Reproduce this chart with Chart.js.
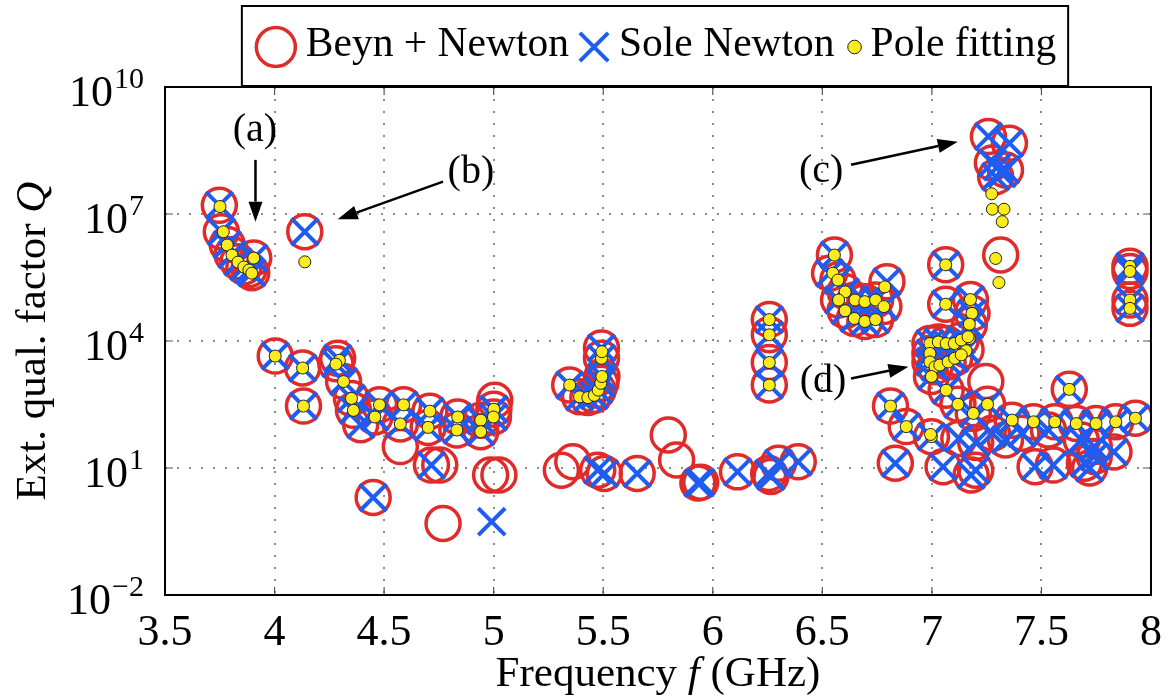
<!DOCTYPE html>
<html><head><meta charset="utf-8">
<script src="https://cdn.jsdelivr.net/npm/chart.js@4/dist/chart.umd.min.js"></script>
<style>html,body{margin:0;padding:0;background:#fff}</style>
</head><body>
<canvas id="c" width="1174" height="697"></canvas>
<script>
// ---------- DATA ----------
const seriesNames = ['Beyn + Newton', 'Sole Newton', 'Pole fitting'];

const beynF = [3.748,3.757,3.784,3.806,3.833,3.860,3.883,3.896,3.905,
  4.138,
  4.003,4.128,4.132,4.288,4.280,4.315,4.351,4.360,4.393,4.479,4.458,4.589,4.574,4.574,4.709,4.701,4.836,4.832,4.941,4.941,5.001,4.999,5.005,
  4.716,4.754,4.450,4.769,4.986,5.024,
  5.347,5.392,5.430,5.459,5.477,5.489,5.494,5.492,5.492,
  5.309,5.361,5.475,5.505,5.655,5.797,5.835,5.932,5.945,6.113,6.255,6.265,6.300,6.390,
  6.258,6.258,6.258,6.258,
  6.555,6.533,6.571,6.604,6.574,6.604,6.649,6.646,6.694,6.694,6.743,6.743,6.795,6.781,
  7.063,7.063,
  7.258,7.354,7.276,7.336,7.291,7.314,
  6.991,7.029,7.065,7.134,7.171,7.183,7.176,6.991,6.991,7.014,7.074,7.104,7.156,6.998,7.065,7.119,7.189,7.254,7.246,
  6.811,6.883,6.998,6.833,7.123,7.366,7.464,7.561,7.659,7.749,7.839,7.929,7.627,
  7.051,7.179,7.200,7.471,7.554,7.696,7.741,7.720,7.831,
  7.276,7.336,7.411,7.532,7.682,7.741,7.200,
  7.904,7.904,7.904,7.904];
const beynQ = [1.6e7,3.8e6,1.9e6,1.1e6,7.4e5,5.6e5,4.8e5,4.1e5,9.1e5,
  3.8e6,
  4.4e3,2.3e3,2.9e2,3.9e3,2.9e3,1.1e3,4.4e2,2.3e2,1.05e2,3.1e2,1.6e2,3.1e2,1.1e2,32,2.2e2,91,1.6e2,79,1.35e2,72,2.45e2,1.6e2,4.0e2,
  11.7,11.7,2.0,0.49,6.8,6.8,
  9.1e2,4.8e2,4.6e2,5.2e2,6.9e2,1.0e3,1.45e3,3.9e3,6.8e3,
  8.9,14,8.9,7.4,7.4,60,15.5,4.4,4.6,8.1,7.4,6.3,12.9,14,
  3.2e4,1.4e4,3.1e3,9.1e2,
  1.07e6,4.0e5,2.75e5,1.45e5,9.3e4,5.2e4,9.3e4,3.4e4,8.5e4,2.9e4,9.3e4,3.2e4,2.5e5,6.5e4,
  6.3e5,7.4e4,
  6.8e8,4.7e8,1.6e8,1.1e8,7.6e7,1.07e6,
  8.7e3,9.5e3,8.7e3,1.05e4,2.4e4,4.5e4,9.5e4,5.1e3,3.2e3,2.45e3,3.2e3,3.9e3,6.2e3,1.45e3,6.9e2,3.2e2,1.95e2,3.2e2,1.1e3,
  2.9e2,95,55,12.9,50,1.35e2,1.23e2,1.23e2,1.12e2,1.12e2,1.23e2,1.5e2,7.2e2,
  10.7,6.8,8.9,10.7,11.7,12.9,18.6,10,24,
  66,46,66,79,46,32,40,
  5.8e5,4.4e5,9.3e4,5.9e4];

const soleF = [3.748,3.757,3.784,3.806,3.833,3.860,3.883,3.896,3.905,
  4.138,
  4.003,4.128,4.132,4.288,4.280,4.315,4.351,4.360,4.393,4.479,4.458,4.589,4.574,4.709,4.701,4.836,4.832,4.941,4.941,5.001,4.999,
  4.716,4.450,4.991,
  5.347,5.392,5.430,5.459,5.477,5.489,5.494,5.492,5.492,
  5.475,5.505,5.655,5.932,5.945,6.113,6.255,6.265,6.300,6.390,
  6.258,6.258,6.258,6.258,
  6.555,6.533,6.571,6.604,6.574,6.604,6.649,6.646,6.694,6.694,6.743,6.743,6.795,6.781,
  7.063,7.063,
  7.258,7.354,7.276,7.336,7.291,7.300,7.320,
  6.991,7.029,7.065,7.134,7.171,7.183,7.176,6.991,6.991,7.014,7.074,7.104,7.156,6.998,7.065,7.119,7.189,7.254,
  6.811,6.883,6.998,6.833,7.123,7.366,7.464,7.561,7.659,7.749,7.839,7.929,7.627,
  7.051,7.179,7.200,7.471,7.554,7.696,7.741,7.720,7.831,
  7.276,7.336,7.411,7.532,7.682,7.741,7.200,
  7.904,7.904,7.904,7.904];
const soleQ = [1.6e7,3.8e6,1.9e6,1.1e6,7.4e5,5.6e5,4.8e5,4.1e5,9.1e5,
  3.8e6,
  4.4e3,2.3e3,2.9e2,3.9e3,2.9e3,1.1e3,4.4e2,2.3e2,1.05e2,3.1e2,1.6e2,3.1e2,1.1e2,2.2e2,91,1.6e2,79,1.35e2,72,2.45e2,1.6e2,
  11.7,2.0,0.54,
  9.1e2,4.8e2,4.6e2,5.2e2,6.9e2,1.0e3,1.45e3,3.9e3,6.8e3,
  8.9,7.4,7.4,4.4,4.6,8.1,7.4,6.3,12.9,14,
  3.2e4,1.4e4,3.1e3,9.1e2,
  1.07e6,4.0e5,2.75e5,1.45e5,9.3e4,5.2e4,9.3e4,3.4e4,8.5e4,2.9e4,9.3e4,3.2e4,2.5e5,6.5e4,
  6.3e5,7.4e4,
  6.8e8,4.7e8,1.6e8,1.1e8,7.6e7,1.3e8,9.0e7,
  8.7e3,9.5e3,8.7e3,1.05e4,2.4e4,4.5e4,9.5e4,5.1e3,3.2e3,2.45e3,3.2e3,3.9e3,6.2e3,1.45e3,6.9e2,3.2e2,1.95e2,3.2e2,
  2.9e2,95,55,12.9,50,1.35e2,1.23e2,1.23e2,1.12e2,1.12e2,1.23e2,1.5e2,7.2e2,
  10.7,6.8,8.9,10.7,11.7,12.9,18.6,10,24,
  66,46,66,79,46,32,40,
  5.8e5,4.4e5,9.3e4,5.9e4];

const poleF = [3.751,3.766,3.784,3.806,3.833,3.860,3.883,3.896,3.905,
  4.138,
  4.003,4.128,4.132,4.296,4.280,4.315,4.351,4.360,4.479,4.458,4.589,4.574,4.709,4.701,4.836,4.832,4.941,4.941,5.001,4.999,
  5.347,5.392,5.430,5.459,5.477,5.489,5.494,5.492,5.494,
  6.258,6.258,6.258,6.258,
  6.555,6.548,6.571,6.604,6.574,6.604,6.649,6.646,6.694,6.694,6.743,6.743,6.785,6.781,
  7.063,7.063,
  7.273,7.276,7.329,7.321,7.291,7.306,
  7.176,7.183,7.171,7.171,7.156,6.991,7.029,7.065,7.102,7.134,7.165,6.991,6.991,7.014,7.036,7.074,7.104,7.134,6.998,7.065,7.119,7.189,7.254,
  6.811,6.883,6.998,6.994,7.366,7.464,7.561,7.659,7.749,7.839,7.929,7.627,
  7.904,7.904,7.904,7.904];
const poleQ = [1.5e7,3.8e6,1.85e6,1.07e6,7.3e5,5.6e5,4.75e5,4.0e5,9.1e5,
  7.4e5,
  4.4e3,2.3e3,2.9e2,3.5e3,2.85e3,1.1e3,4.4e2,2.3e2,3.1e2,1.6e2,3.1e2,1.1e2,2.2e2,91,1.6e2,79,1.35e2,72,2.45e2,1.6e2,
  9.1e2,4.8e2,4.6e2,5.2e2,6.9e2,1.0e3,1.45e3,3.9e3,5.6e3,
  3.2e4,1.4e4,3.1e3,9.1e2,
  1.07e6,4.0e5,2.75e5,1.45e5,9.3e4,5.2e4,9.3e4,3.4e4,8.5e4,2.9e4,9.3e4,3.2e4,1.9e5,6.5e4,
  6.3e5,7.4e4,
  3.0e7,1.3e7,1.3e7,6.6e6,8.9e5,2.4e5,
  9.5e4,4.5e4,2.5e4,1.15e4,5.9e3,8.7e3,9.5e3,8.7e3,8.7e3,1.05e4,1.26e4,5.1e3,3.2e3,2.45e3,2.7e3,3.2e3,3.9e3,4.7e3,1.45e3,6.9e2,3.2e2,1.95e2,3.2e2,
  2.9e2,95,55,62,1.35e2,1.23e2,1.23e2,1.12e2,1.12e2,1.23e2,1.5e2,7.2e2,
  5.8e5,4.4e5,9.3e4,5.9e4];

const xTicks = [3.5,4,4.5,5,5.5,6,6.5,7,7.5,8];
const xTickLabels = ['3.5','4','4.5','5','5.5','6','6.5','7','7.5','8'];
const yTicks = [1e-2,1e1,1e4,1e7,1e10];
const yTickExponents = ['\u22122','1','4','7','10'];

const annotationLabels = ['(a)','(b)','(c)','(d)'];
const annotationTextX = [3.91, 4.896, 6.495, 6.503];
const annotationTextY = [9.5e8, 9.8e7, 1.0e8, 1.1e3];
const arrowFromX = [3.913, 4.769, 6.631, 6.631];
const arrowFromY = [1.9e8, 5.8e7, 1.45e8, 1.3e3];
const arrowToX = [3.913, 4.288, 7.118, 6.893];
const arrowToY = [6.6e6, 7.5e6, 5.1e8, 2.45e3];

// ---------- STYLE ----------
const RED = '#e12a2a', BLUE = '#1f5cf2', YELLOW = '#fdec1c';
const SERIF = '"Liberation Serif", "Times New Roman", serif';
const TICK_FONT = 44, SUP_FONT = 30, TITLE_FONT = 43, LEG_FONT = 41.5, ANN_FONT = 40;

function toPts(xs, ys){ return xs.map((x,i)=>({x:x, y:ys[i]})); }

function mixedCentered(ctx, pieces, cx, y, size){
  const widths = pieces.map(p=>{ ctx.font = (p[1]?'italic ':'') + size + 'px ' + SERIF; return ctx.measureText(p[0]).width; });
  let x = cx - widths.reduce((s,w)=>s+w,0)/2;
  ctx.textAlign = 'left';
  pieces.forEach((p,i)=>{ ctx.font = (p[1]?'italic ':'') + size + 'px ' + SERIF; ctx.fillText(p[0], x, y); x += widths[i]; });
}

const decor = {
  id: 'decor',
  beforeDraw(chart){
    const ctx = chart.ctx;
    ctx.save(); ctx.fillStyle = '#fff'; ctx.fillRect(0,0,chart.width,chart.height); ctx.restore();
  },
  afterDraw(chart){
    const ctx = chart.ctx, a = chart.chartArea;
    const xs = chart.scales.x, ys = chart.scales.y;
    ctx.save();
    // inner tick marks
    ctx.strokeStyle = '#555'; ctx.lineWidth = 1.2;
    ctx.beginPath();
    xTicks.forEach(v=>{ const p = xs.getPixelForValue(v);
      ctx.moveTo(p, a.bottom); ctx.lineTo(p, a.bottom-8);
      ctx.moveTo(p, a.top); ctx.lineTo(p, a.top+8); });
    yTicks.forEach(v=>{ const p = ys.getPixelForValue(v);
      ctx.moveTo(a.left, p); ctx.lineTo(a.left+8, p);
      ctx.moveTo(a.right, p); ctx.lineTo(a.right-8, p); });
    ctx.stroke();
    // frame
    ctx.strokeStyle = '#000'; ctx.lineWidth = 2;
    ctx.strokeRect(a.left, a.top, a.right-a.left, a.bottom-a.top);

    ctx.fillStyle = '#000'; ctx.textBaseline = 'alphabetic';
    // x tick labels
    ctx.font = TICK_FONT + 'px ' + SERIF; ctx.textAlign = 'center';
    xTicks.forEach((v,i)=>{ ctx.fillText(xTickLabels[i], xs.getPixelForValue(v), a.bottom + 50); });
    // y tick labels 10^n
    yTicks.forEach((v,i)=>{
      const p = ys.getPixelForValue(v);
      const right = a.left - 21;
      ctx.font = SUP_FONT + 'px ' + SERIF;
      const sw = ctx.measureText(yTickExponents[i]).width;
      ctx.textAlign = 'left';
      ctx.fillText(yTickExponents[i], right - sw, p + 1);
      ctx.font = TICK_FONT + 'px ' + SERIF;
      ctx.textAlign = 'right';
      ctx.fillText('10', right - sw - 1, p + 19);
    });
    // x title
    mixedCentered(ctx, [['Frequency ',false],['f',true],[' (GHz)',false]], (a.left+a.right)/2, a.bottom + 91, TITLE_FONT);
    // y title
    ctx.save();
    ctx.translate(45, (a.top+a.bottom)/2); ctx.rotate(-Math.PI/2);
    mixedCentered(ctx, [['Ext. qual. factor ',false],['Q',true]], 0, 0, TITLE_FONT);
    ctx.restore();

    // annotations
    ctx.font = ANN_FONT + 'px ' + SERIF; ctx.textAlign = 'center'; ctx.textBaseline = 'middle';
    annotationLabels.forEach((lab,i)=>{
      ctx.fillStyle = '#000';
      ctx.fillText(lab, xs.getPixelForValue(annotationTextX[i]), ys.getPixelForValue(annotationTextY[i]));
      const x0 = xs.getPixelForValue(arrowFromX[i]), y0 = ys.getPixelForValue(arrowFromY[i]);
      const x1 = xs.getPixelForValue(arrowToX[i]), y1 = ys.getPixelForValue(arrowToY[i]);
      const ang = Math.atan2(y1-y0, x1-x0), L = 20, W = 7;
      const bx = x1 - L*Math.cos(ang), byy = y1 - L*Math.sin(ang);
      ctx.strokeStyle = '#000'; ctx.lineWidth = 2.5;
      ctx.beginPath(); ctx.moveTo(x0,y0); ctx.lineTo(bx,byy); ctx.stroke();
      ctx.beginPath(); ctx.moveTo(x1,y1);
      ctx.lineTo(bx + W*Math.sin(ang), byy - W*Math.cos(ang));
      ctx.lineTo(bx - W*Math.sin(ang), byy + W*Math.cos(ang));
      ctx.closePath(); ctx.fill();
    });

    // legend box
    ctx.textBaseline = 'alphabetic';
    ctx.font = LEG_FONT + 'px ' + SERIF;
    const ds = chart.data.datasets;
    const leftPad = [34, 25, 20];   // from previous edge to marker centre
    const toText = [30, 25, 16];    // from marker centre to text start
    const tw = seriesNames.map(s=>ctx.measureText(s).width);
    let total = 12;
    seriesNames.forEach((s,i)=>{ total += leftPad[i] + toText[i] + tw[i]; });
    const boxL = (a.left+a.right)/2 - total/2 - 3, boxT = 6, boxH = 80, midY = 47;
    ctx.fillStyle = '#fff'; ctx.fillRect(boxL, boxT, total, boxH);
    ctx.strokeStyle = '#000'; ctx.lineWidth = 2; ctx.strokeRect(boxL, boxT, total, boxH);
    let px = boxL;
    seriesNames.forEach((s,i)=>{
      px += leftPad[i];
      const d = ds[i];
      const legR = [19.5, 20, 6.8][i];
      ctx.save();
      ctx.strokeStyle = d.borderColor; ctx.fillStyle = d.backgroundColor; ctx.lineWidth = d.borderWidth;
      Chart.helpers.drawPoint(ctx, {pointStyle: d.pointStyle, radius: legR, borderWidth: d.borderWidth}, px, midY);
      ctx.restore();
      px += toText[i];
      ctx.fillStyle = '#000'; ctx.textAlign = 'left';
      ctx.fillText(s, px, 56);
      px += tw[i];
    });
    ctx.restore();
  }
};

new Chart(document.getElementById('c'), {
  type: 'scatter',
  data: { datasets: [
    { label: seriesNames[0], data: toPts(beynF, beynQ), pointStyle: 'circle', pointRadius: 17, pointHoverRadius: 17,
      borderColor: RED, backgroundColor: 'rgba(0,0,0,0)', borderWidth: 3.5, order: 2 },
    { label: seriesNames[1], data: toPts(soleF, soleQ), pointStyle: 'crossRot', pointRadius: 19, pointHoverRadius: 19,
      borderColor: BLUE, backgroundColor: BLUE, borderWidth: 4, order: 1 },
    { label: seriesNames[2], data: toPts(poleF, poleQ), pointStyle: 'circle', pointRadius: 6, pointHoverRadius: 6,
      borderColor: '#222', backgroundColor: YELLOW, borderWidth: 1, order: 0 }
  ]},
  options: {
    responsive: false, animation: false, devicePixelRatio: 1,
    layout: { padding: { left: 165, top: 87, right: 10, bottom: 102 } },
    plugins: { legend: { display: false }, tooltip: { enabled: false } },
    scales: {
      x: { type: 'linear', min: 3.5, max: 8,
        afterBuildTicks: s => { s.ticks = xTicks.map(v=>({value:v})); },
        ticks: { display: false },
        grid: { color: '#8c8c8c', lineWidth: 2, drawTicks: false },
        border: { display: false, dash: [2, 10] } },
      y: { type: 'logarithmic', min: 1e-2, max: 1e10,
        afterBuildTicks: s => { s.ticks = yTicks.map(v=>({value:v})); },
        ticks: { display: false },
        grid: { color: '#8c8c8c', lineWidth: 2, drawTicks: false },
        border: { display: false, dash: [2, 10] } }
    }
  },
  plugins: [decor]
});
</script>
</body></html>
